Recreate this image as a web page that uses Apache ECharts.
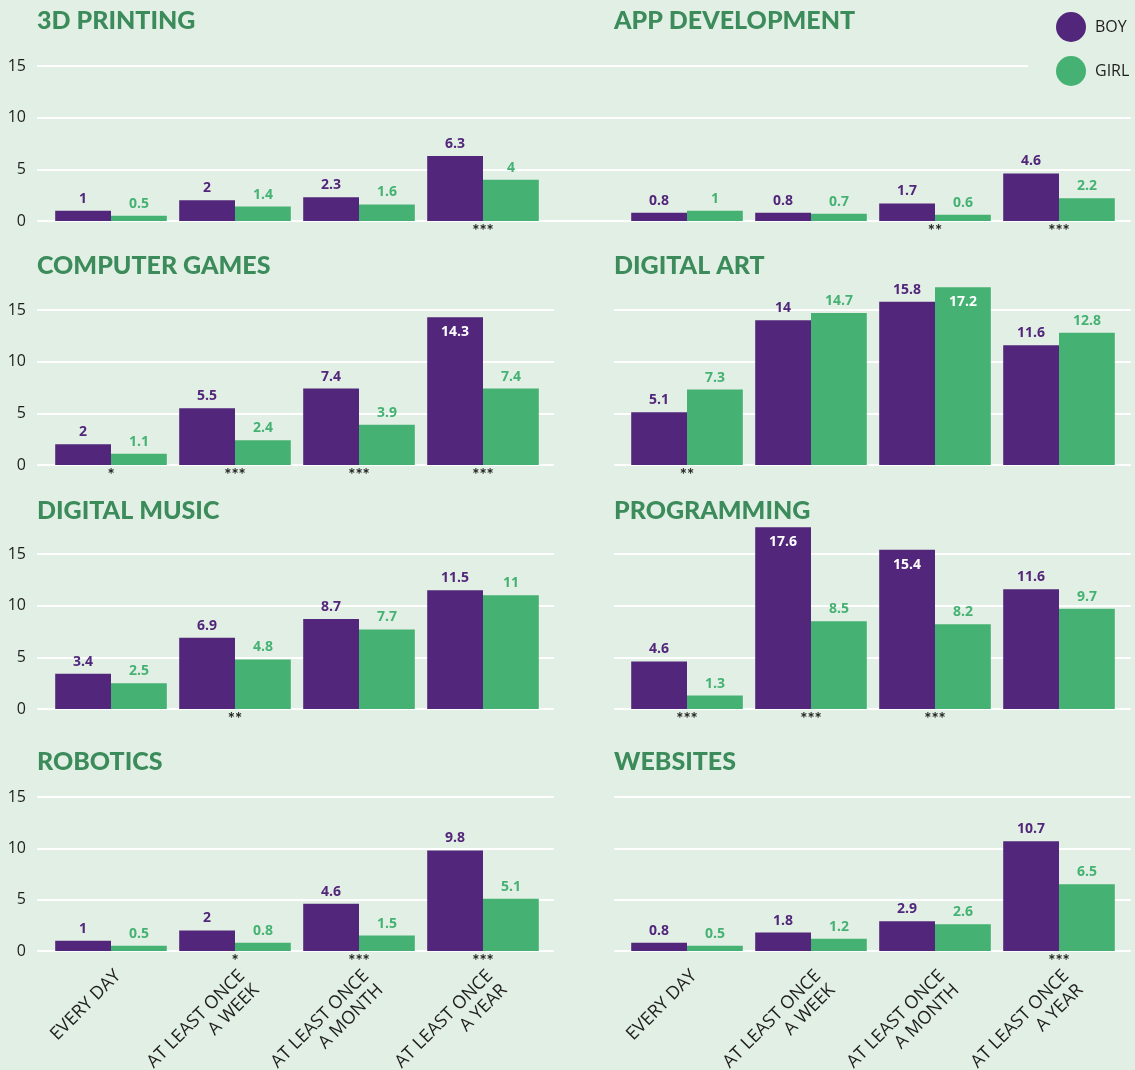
<!DOCTYPE html>
<html>
<head>
<meta charset="utf-8">
<script src="https://cdn.jsdelivr.net/npm/echarts@6/dist/echarts.min.js"></script>
<style>
  html, body { margin: 0; padding: 0; background: #e2efe4; }
  #chart { width: 1135px; height: 1070px; }
</style>
</head>
<body>
<div id="chart"></div>
<script>
// categories shared by every panel
const categories = ['EVERY DAY', 'AT LEAST ONCE\nA WEEK', 'AT LEAST ONCE\nA MONTH', 'AT LEAST ONCE\nA YEAR'];
const panelTitles = ['3D PRINTING', 'APP DEVELOPMENT', 'COMPUTER GAMES', 'DIGITAL ART',
  'DIGITAL MUSIC', 'PROGRAMMING', 'ROBOTICS', 'WEBSITES'];
const boyValues = [
  [1, 2, 2.3, 6.3],
  [0.8, 0.8, 1.7, 4.6],
  [2, 5.5, 7.4, 14.3],
  [5.1, 14, 15.8, 11.6],
  [3.4, 6.9, 8.7, 11.5],
  [4.6, 17.6, 15.4, 11.6],
  [1, 2, 4.6, 9.8],
  [0.8, 1.8, 2.9, 10.7]
];
const girlValues = [
  [0.5, 1.4, 1.6, 4],
  [1, 0.7, 0.6, 2.2],
  [1.1, 2.4, 3.9, 7.4],
  [7.3, 14.7, 17.2, 12.8],
  [2.5, 4.8, 7.7, 11],
  [1.3, 8.5, 8.2, 9.7],
  [0.5, 0.8, 1.5, 5.1],
  [0.5, 1.2, 2.6, 6.5]
];
const significance = [
  ['', '', '', '***'],
  ['', '', '**', '***'],
  ['*', '***', '***', '***'],
  ['**', '', '', ''],
  ['', '**', '', ''],
  ['***', '***', '***', ''],
  ['', '*', '***', '***'],
  ['', '', '', '***']
];
const yTicks = [0, 5, 10, 15];

// labels drawn in white inside the bar top: [panel, series (0 boy / 1 girl), index]
const insideLabels = [[2, 0, 3], [3, 1, 2], [5, 0, 1], [5, 0, 2]];

const BG = '#e2efe4';
const PURPLE = '#52267a';
const GREEN = '#45b273';
const TITLE = '#3b8b5b';
const TEXT = '#1e1e1e';

const cols = [
  { bgL: 37, bgR: 554, barL: 49, barR: 545 },
  { bgL: 614, bgR: 1131, barL: 625, barR: 1121 }
];
const rows = [
  { top: 66, bottom: 221, title: 8 },
  { top: 310, bottom: 465, title: 253 },
  { top: 554, bottom: 709, title: 498 },
  { top: 797, bottom: 951, title: 749 }
];

const grid = [], xAxis = [], yAxis = [], series = [], title = [];

panelTitles.forEach((name, p) => {
  const c = cols[p % 2];
  const r = rows[Math.floor(p / 2)];
  const bottomRow = p >= 6;
  const bgLeft = p === 1 ? 554 : c.bgL;

  title.push({
    text: name, left: c.bgL, top: r.title, padding: 0,
    textStyle: { fontFamily: 'Lato', fontWeight: 900, fontSize: 25, color: TITLE }
  });

  // background grid: gridlines and y ticks
  const bg = grid.length;
  grid.push({ left: bgLeft, top: r.top, width: c.bgR - bgLeft, height: r.bottom - r.top, outerBoundsMode: 'none' });
  xAxis.push({ type: 'value', gridIndex: bg, show: false, min: 0, max: 1 });
  yAxis.push({
    type: 'value', gridIndex: bg, min: yTicks[0], max: yTicks[yTicks.length - 1], interval: 5,
    axisLine: { show: false }, axisTick: { show: false },
    axisLabel: { show: p % 2 === 0, margin: 11, fontFamily: 'Open Sans', fontSize: 16, color: TEXT },
    splitLine: { show: true, lineStyle: { color: '#ffffff', width: 2 } }
  });

  // bar grid
  const g = grid.length;
  grid.push({ left: c.barL, top: r.top, width: c.barR - c.barL, height: r.bottom - r.top, outerBoundsMode: 'none' });
  const xi = xAxis.length;
  xAxis.push({
    type: 'category', gridIndex: g, data: categories,
    axisLine: { show: false }, axisTick: { show: false },
    axisLabel: {
      show: bottomRow, interval: 0, rotate: 45, margin: 15,
      align: 'right', verticalAlign: 'top', lineHeight: 20,
      fontFamily: 'Open Sans', fontSize: 18, color: TEXT
    }
  });
  xAxis.push({
    type: 'category', gridIndex: g, position: 'bottom', data: significance[p],
    axisLine: { show: false }, axisTick: { show: false },
    axisLabel: { interval: 0, margin: 2, verticalAlign: 'top', fontFamily: 'Lato', fontWeight: 'bold', fontSize: 17, color: TEXT }
  });
  const yi = yAxis.length;
  yAxis.push({ type: 'value', gridIndex: g, min: 0, max: 15, show: false });

  [[boyValues[p], 'BOY', PURPLE], [girlValues[p], 'GIRL', GREEN]].forEach(([vals, sName, color], s) => {
    series.push({
      type: 'bar', name: sName, xAxisIndex: xi, yAxisIndex: yi,
      barGap: '0%', barCategoryGap: '10%', clip: false,
      itemStyle: { color },
      label: {
        show: true, position: 'top', distance: 5, color,
        fontFamily: 'Open Sans', fontWeight: 'bold', fontSize: 14
      },
      data: vals.map((v, i) => {
        const inside = insideLabels.some(([ip, is, ii]) => ip === p && is === s && ii === i);
        return inside ? { value: v, label: { position: 'insideTop', distance: 8, color: '#ffffff' } } : v;
      })
    });
  });
});

const chart = echarts.init(document.getElementById('chart'), null, { renderer: 'canvas' });
chart.setOption({
  backgroundColor: BG,
  animation: false,
  title,
  legend: {
    data: ['BOY', 'GIRL'],
    orient: 'vertical', left: 1028, top: 5,
    padding: [7, 10, 7, 28], backgroundColor: BG,
    icon: 'circle', itemWidth: 30, itemHeight: 30, itemGap: 14,
    textStyle: { fontFamily: 'Open Sans', fontSize: 16, color: TEXT, padding: [0, 0, 0, 4] }
  },
  grid, xAxis, yAxis, series
});
</script>
</body>
</html>
